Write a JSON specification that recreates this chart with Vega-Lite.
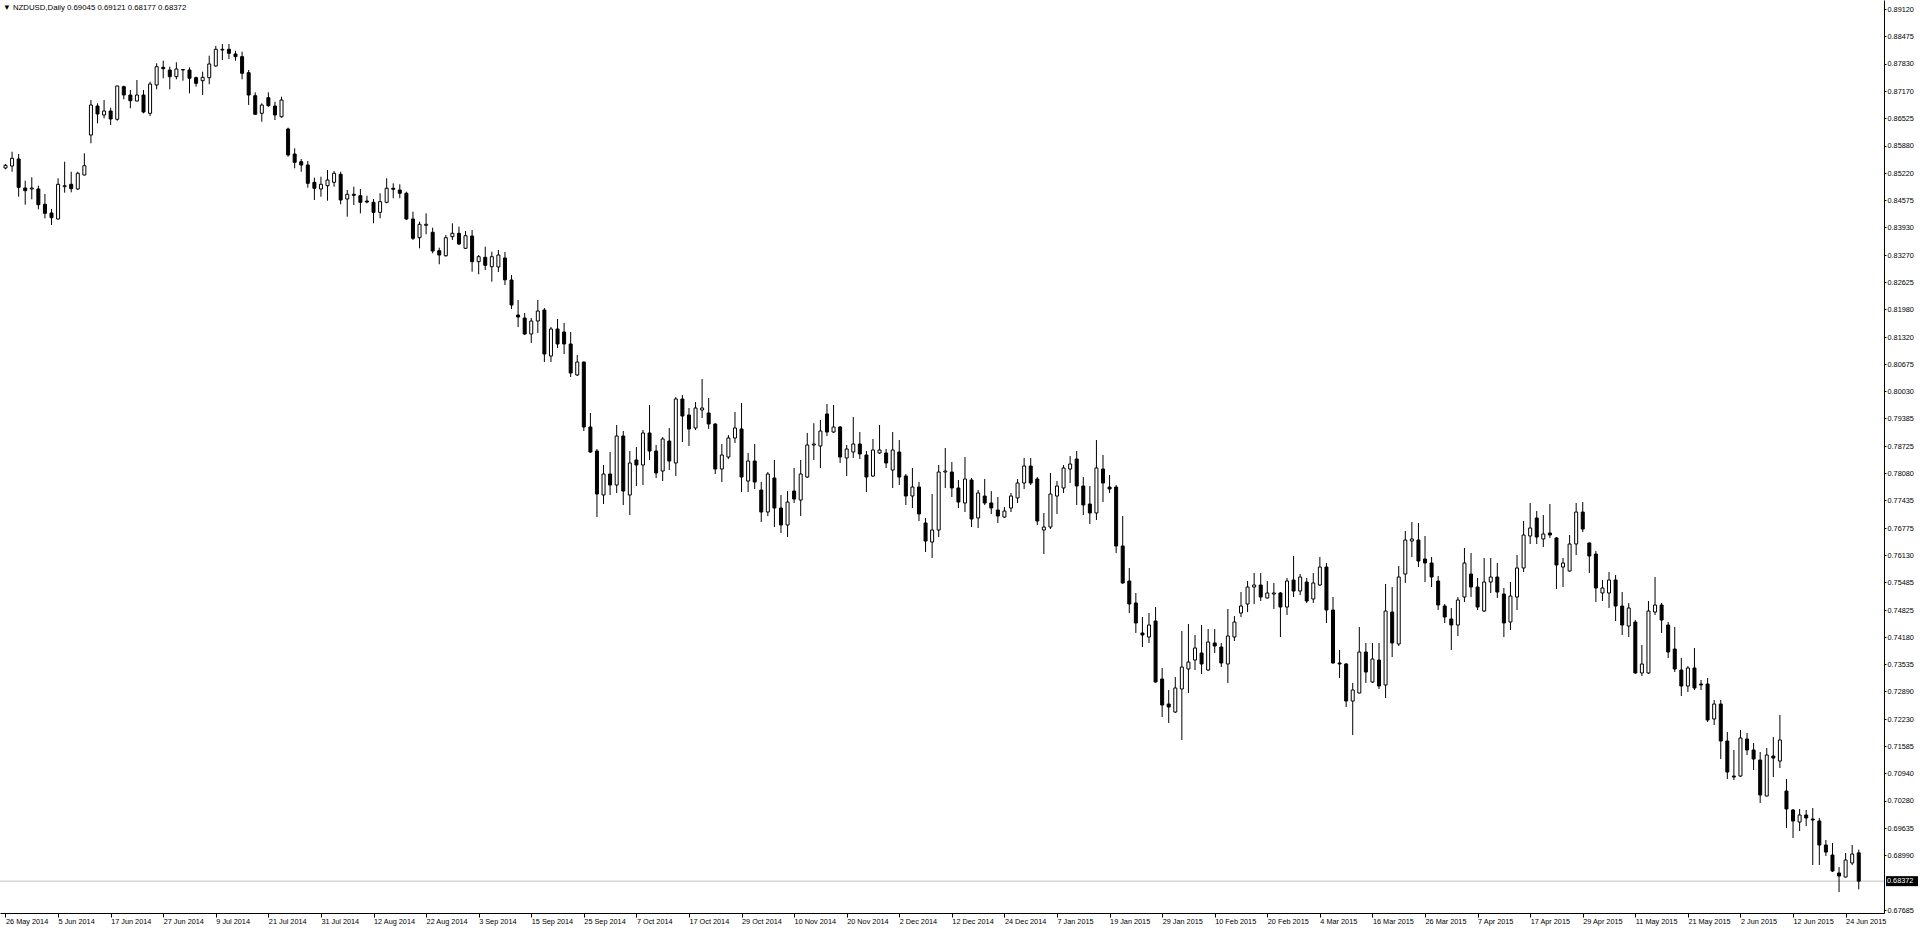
{
"$schema":"https://vega.github.io/schema/vega-lite/v6.json",
"width":1884,"height":913,
"autosize":{"type":"none"},
"padding":{"left":0,"top":0,"right":36,"bottom":16},
"background":"white",
"config":{"view":{"stroke":null},"axis":{"grid":false,"domainColor":"black","tickColor":"black","labelColor":"black","labelFont":"Liberation Sans","labelFontSize":7.3,"labelOverlap":false,"labelFlush":false,"labelBound":false}},
"title":{"text":"▼ NZDUSD,Daily  0.69045 0.69121 0.68177 0.68372","anchor":"start","frame":"group","offset":-12,"fontSize":7.8,"font":"Liberation Sans","fontWeight":"normal","color":"black","dx":3},
"datasets":{
"candles":[
{"d":"2014-05-26","o":0.85345,"h":0.8544,"l":0.85314,"c":0.85409},
{"d":"2014-05-27","o":0.85392,"h":0.85732,"l":0.85256,"c":0.85575},
{"d":"2014-05-28","o":0.85559,"h":0.85678,"l":0.84661,"c":0.84885},
{"d":"2014-05-29","o":0.84869,"h":0.85042,"l":0.84471,"c":0.84804},
{"d":"2014-05-30","o":0.84845,"h":0.85123,"l":0.846,"c":0.84869},
{"d":"2014-06-02","o":0.84845,"h":0.84923,"l":0.84362,"c":0.84471},
{"d":"2014-06-03","o":0.84481,"h":0.84726,"l":0.84147,"c":0.84266},
{"d":"2014-06-04","o":0.84274,"h":0.84369,"l":0.83988,"c":0.84162},
{"d":"2014-06-05","o":0.84131,"h":0.851,"l":0.8412,"c":0.84957},
{"d":"2014-06-06","o":0.849,"h":0.85495,"l":0.84757,"c":0.84923},
{"d":"2014-06-09","o":0.84957,"h":0.85256,"l":0.84766,"c":0.84852},
{"d":"2014-06-10","o":0.84845,"h":0.85256,"l":0.84821,"c":0.85219},
{"d":"2014-06-11","o":0.85178,"h":0.85694,"l":0.8517,"c":0.85399},
{"d":"2014-06-12","o":0.8613,"h":0.86963,"l":0.85932,"c":0.86844},
{"d":"2014-06-13","o":0.8682,"h":0.86884,"l":0.86408,"c":0.8663},
{"d":"2014-06-16","o":0.86606,"h":0.86963,"l":0.86527,"c":0.86701},
{"d":"2014-06-17","o":0.86701,"h":0.8678,"l":0.86368,"c":0.86511},
{"d":"2014-06-18","o":0.86504,"h":0.873,"l":0.8647,"c":0.87296},
{"d":"2014-06-19","o":0.8728,"h":0.87303,"l":0.8698,"c":0.87082},
{"d":"2014-06-20","o":0.87082,"h":0.87201,"l":0.86766,"c":0.86946},
{"d":"2014-06-23","o":0.86939,"h":0.87439,"l":0.8693,"c":0.87082},
{"d":"2014-06-24","o":0.87082,"h":0.87201,"l":0.86646,"c":0.86677},
{"d":"2014-06-25","o":0.86646,"h":0.87399,"l":0.86582,"c":0.87344},
{"d":"2014-06-26","o":0.8732,"h":0.87837,"l":0.87218,"c":0.87756},
{"d":"2014-06-27","o":0.87741,"h":0.87898,"l":0.8748,"c":0.87708},
{"d":"2014-06-30","o":0.87677,"h":0.87756,"l":0.87218,"c":0.87518},
{"d":"2014-07-01","o":0.87518,"h":0.8786,"l":0.87456,"c":0.87701},
{"d":"2014-07-02","o":0.87677,"h":0.87694,"l":0.87422,"c":0.87689},
{"d":"2014-07-03","o":0.87677,"h":0.87741,"l":0.87122,"c":0.8748},
{"d":"2014-07-04","o":0.87494,"h":0.87518,"l":0.8728,"c":0.8736},
{"d":"2014-07-07","o":0.87422,"h":0.87637,"l":0.87082,"c":0.87503},
{"d":"2014-07-08","o":0.87494,"h":0.88017,"l":0.87337,"c":0.8782},
{"d":"2014-07-09","o":0.87772,"h":0.88248,"l":0.87756,"c":0.8817},
{"d":"2014-07-10","o":0.88153,"h":0.88296,"l":0.87915,"c":0.8817},
{"d":"2014-07-11","o":0.8817,"h":0.88296,"l":0.87939,"c":0.88075},
{"d":"2014-07-14","o":0.88058,"h":0.88136,"l":0.87898,"c":0.87994},
{"d":"2014-07-15","o":0.87994,"h":0.88113,"l":0.87456,"c":0.87599},
{"d":"2014-07-16","o":0.87613,"h":0.87677,"l":0.86844,"c":0.87082},
{"d":"2014-07-17","o":0.87065,"h":0.87146,"l":0.86606,"c":0.86623},
{"d":"2014-07-18","o":0.86646,"h":0.86884,"l":0.86446,"c":0.86844},
{"d":"2014-07-21","o":0.87018,"h":0.87146,"l":0.86803,"c":0.86827},
{"d":"2014-07-22","o":0.8682,"h":0.86922,"l":0.86487,"c":0.86606},
{"d":"2014-07-23","o":0.86565,"h":0.87041,"l":0.86542,"c":0.86963},
{"d":"2014-07-24","o":0.86273,"h":0.86304,"l":0.85613,"c":0.85654},
{"d":"2014-07-25","o":0.85678,"h":0.85813,"l":0.85337,"c":0.8548},
{"d":"2014-07-28","o":0.85495,"h":0.85559,"l":0.85256,"c":0.85416},
{"d":"2014-07-29","o":0.85416,"h":0.85511,"l":0.84876,"c":0.8498},
{"d":"2014-07-30","o":0.85004,"h":0.85114,"l":0.84583,"c":0.84862},
{"d":"2014-07-31","o":0.84845,"h":0.85137,"l":0.84661,"c":0.84957},
{"d":"2014-08-01","o":0.84923,"h":0.85297,"l":0.84566,"c":0.85059},
{"d":"2014-08-04","o":0.85004,"h":0.85273,"l":0.849,"c":0.85219},
{"d":"2014-08-05","o":0.85195,"h":0.85256,"l":0.84481,"c":0.84583},
{"d":"2014-08-06","o":0.84607,"h":0.84821,"l":0.84186,"c":0.84719},
{"d":"2014-08-07","o":0.84719,"h":0.849,"l":0.84464,"c":0.84695},
{"d":"2014-08-08","o":0.84685,"h":0.84845,"l":0.84266,"c":0.84528},
{"d":"2014-08-11","o":0.84559,"h":0.84685,"l":0.84505,"c":0.84535},
{"d":"2014-08-12","o":0.84528,"h":0.84607,"l":0.84029,"c":0.8429},
{"d":"2014-08-13","o":0.8429,"h":0.84743,"l":0.84147,"c":0.84543},
{"d":"2014-08-14","o":0.84528,"h":0.851,"l":0.84505,"c":0.84862},
{"d":"2014-08-15","o":0.84862,"h":0.8498,"l":0.84624,"c":0.84838},
{"d":"2014-08-18","o":0.84821,"h":0.84957,"l":0.84624,"c":0.84743},
{"d":"2014-08-19","o":0.84743,"h":0.84781,"l":0.84107,"c":0.84131},
{"d":"2014-08-20","o":0.84131,"h":0.84305,"l":0.83631,"c":0.83672},
{"d":"2014-08-21","o":0.83686,"h":0.84067,"l":0.83434,"c":0.84005},
{"d":"2014-08-22","o":0.83981,"h":0.84266,"l":0.83767,"c":0.84005},
{"d":"2014-08-25","o":0.83814,"h":0.83924,"l":0.83315,"c":0.83369},
{"d":"2014-08-26","o":0.83376,"h":0.83448,"l":0.83053,"c":0.83274},
{"d":"2014-08-27","o":0.83257,"h":0.8375,"l":0.83234,"c":0.83686},
{"d":"2014-08-28","o":0.8371,"h":0.84029,"l":0.83631,"c":0.83791},
{"d":"2014-08-29","o":0.83791,"h":0.83948,"l":0.83512,"c":0.83536},
{"d":"2014-09-01","o":0.83434,"h":0.83845,"l":0.83417,"c":0.83733},
{"d":"2014-09-02","o":0.83726,"h":0.83869,"l":0.82877,"c":0.83115},
{"d":"2014-09-03","o":0.83115,"h":0.83274,"l":0.82815,"c":0.83234},
{"d":"2014-09-04","o":0.83219,"h":0.83472,"l":0.82917,"c":0.83029},
{"d":"2014-09-05","o":0.82996,"h":0.83353,"l":0.82639,"c":0.83234},
{"d":"2014-09-08","o":0.82989,"h":0.83393,"l":0.82869,"c":0.83274},
{"d":"2014-09-09","o":0.83203,"h":0.83345,"l":0.8256,"c":0.82683},
{"d":"2014-09-10","o":0.82679,"h":0.82798,"l":0.81989,"c":0.82084},
{"d":"2014-09-11","o":0.81846,"h":0.82203,"l":0.8156,"c":0.81798},
{"d":"2014-09-12","o":0.81775,"h":0.81894,"l":0.8137,"c":0.81394},
{"d":"2014-09-15","o":0.81394,"h":0.81775,"l":0.8118,"c":0.81703},
{"d":"2014-09-16","o":0.81703,"h":0.82203,"l":0.81418,"c":0.81941},
{"d":"2014-09-17","o":0.81965,"h":0.82013,"l":0.80727,"c":0.80918},
{"d":"2014-09-18","o":0.8087,"h":0.8156,"l":0.80727,"c":0.81513},
{"d":"2014-09-19","o":0.81513,"h":0.81751,"l":0.81061,"c":0.81156},
{"d":"2014-09-22","o":0.81441,"h":0.81656,"l":0.80918,"c":0.81156},
{"d":"2014-09-23","o":0.81156,"h":0.81441,"l":0.8037,"c":0.80466},
{"d":"2014-09-24","o":0.80418,"h":0.80894,"l":0.80394,"c":0.80727},
{"d":"2014-09-25","o":0.80727,"h":0.8074,"l":0.79085,"c":0.7918},
{"d":"2014-09-26","o":0.7918,"h":0.79514,"l":0.78562,"c":0.78585},
{"d":"2014-09-29","o":0.78609,"h":0.78657,"l":0.77038,"c":0.77586},
{"d":"2014-09-30","o":0.77562,"h":0.78276,"l":0.77348,"c":0.78062},
{"d":"2014-10-01","o":0.78062,"h":0.78585,"l":0.77562,"c":0.778},
{"d":"2014-10-02","o":0.778,"h":0.79228,"l":0.7761,"c":0.78966},
{"d":"2014-10-03","o":0.78966,"h":0.79085,"l":0.77324,"c":0.77657},
{"d":"2014-10-06","o":0.77562,"h":0.78609,"l":0.77086,"c":0.78324},
{"d":"2014-10-07","o":0.78395,"h":0.78704,"l":0.77776,"c":0.78276},
{"d":"2014-10-08","o":0.78276,"h":0.79109,"l":0.778,"c":0.79038},
{"d":"2014-10-09","o":0.79038,"h":0.79704,"l":0.78395,"c":0.78609},
{"d":"2014-10-10","o":0.78609,"h":0.78752,"l":0.77967,"c":0.78086},
{"d":"2014-10-13","o":0.78133,"h":0.78942,"l":0.77895,"c":0.78895},
{"d":"2014-10-14","o":0.78847,"h":0.79157,"l":0.78157,"c":0.78371},
{"d":"2014-10-15","o":0.78324,"h":0.79894,"l":0.78014,"c":0.79847},
{"d":"2014-10-16","o":0.79847,"h":0.79942,"l":0.78823,"c":0.79442},
{"d":"2014-10-17","o":0.79466,"h":0.79633,"l":0.78728,"c":0.79133},
{"d":"2014-10-20","o":0.79157,"h":0.79775,"l":0.79109,"c":0.79633},
{"d":"2014-10-21","o":0.79585,"h":0.80323,"l":0.79395,"c":0.79633},
{"d":"2014-10-22","o":0.79514,"h":0.79871,"l":0.79133,"c":0.79252},
{"d":"2014-10-23","o":0.79252,"h":0.7927,"l":0.78062,"c":0.78181},
{"d":"2014-10-24","o":0.78181,"h":0.78776,"l":0.77871,"c":0.78514},
{"d":"2014-10-27","o":0.78466,"h":0.7899,"l":0.78419,"c":0.78919},
{"d":"2014-10-28","o":0.78919,"h":0.79537,"l":0.788,"c":0.79157},
{"d":"2014-10-29","o":0.79133,"h":0.79752,"l":0.77633,"c":0.7799},
{"d":"2014-10-30","o":0.77895,"h":0.78562,"l":0.77633,"c":0.78371},
{"d":"2014-10-31","o":0.78371,"h":0.78776,"l":0.77705,"c":0.77871},
{"d":"2014-11-03","o":0.77681,"h":0.77871,"l":0.76919,"c":0.77157},
{"d":"2014-11-04","o":0.77157,"h":0.78109,"l":0.77062,"c":0.78062},
{"d":"2014-11-05","o":0.77967,"h":0.78395,"l":0.768,"c":0.77253},
{"d":"2014-11-06","o":0.77253,"h":0.77562,"l":0.76658,"c":0.76848},
{"d":"2014-11-07","o":0.76848,"h":0.77657,"l":0.76562,"c":0.77395},
{"d":"2014-11-10","o":0.77657,"h":0.78205,"l":0.77372,"c":0.77467},
{"d":"2014-11-11","o":0.77443,"h":0.78395,"l":0.77062,"c":0.78062},
{"d":"2014-11-12","o":0.7799,"h":0.79038,"l":0.77967,"c":0.78752},
{"d":"2014-11-13","o":0.78752,"h":0.7927,"l":0.78395,"c":0.78776},
{"d":"2014-11-14","o":0.78728,"h":0.79347,"l":0.78205,"c":0.79085},
{"d":"2014-11-17","o":0.7949,"h":0.79728,"l":0.78966,"c":0.79061},
{"d":"2014-11-18","o":0.79061,"h":0.79704,"l":0.7904,"c":0.7918},
{"d":"2014-11-19","o":0.7918,"h":0.79204,"l":0.78324,"c":0.78466},
{"d":"2014-11-20","o":0.78443,"h":0.78752,"l":0.78014,"c":0.78657},
{"d":"2014-11-21","o":0.78585,"h":0.79418,"l":0.78443,"c":0.78776},
{"d":"2014-11-24","o":0.78776,"h":0.79061,"l":0.78419,"c":0.78538},
{"d":"2014-11-25","o":0.78514,"h":0.78609,"l":0.77633,"c":0.7799},
{"d":"2014-11-26","o":0.78014,"h":0.78895,"l":0.7799,"c":0.78633},
{"d":"2014-11-27","o":0.78562,"h":0.79228,"l":0.78538,"c":0.78633},
{"d":"2014-11-28","o":0.78562,"h":0.78657,"l":0.78205,"c":0.78324},
{"d":"2014-12-01","o":0.78157,"h":0.79061,"l":0.77729,"c":0.78633},
{"d":"2014-12-02","o":0.78585,"h":0.78871,"l":0.778,"c":0.7799},
{"d":"2014-12-03","o":0.78014,"h":0.78062,"l":0.77324,"c":0.77538},
{"d":"2014-12-04","o":0.77538,"h":0.78205,"l":0.77253,"c":0.77752},
{"d":"2014-12-05","o":0.77752,"h":0.77871,"l":0.76943,"c":0.7711},
{"d":"2014-12-08","o":0.76896,"h":0.77015,"l":0.76205,"c":0.76467},
{"d":"2014-12-09","o":0.76443,"h":0.77586,"l":0.76063,"c":0.76729},
{"d":"2014-12-10","o":0.76729,"h":0.78276,"l":0.76562,"c":0.78109},
{"d":"2014-12-11","o":0.78109,"h":0.78681,"l":0.77729,"c":0.78133},
{"d":"2014-12-12","o":0.78109,"h":0.78347,"l":0.77514,"c":0.77729},
{"d":"2014-12-15","o":0.77729,"h":0.77919,"l":0.77253,"c":0.77395},
{"d":"2014-12-16","o":0.77372,"h":0.78466,"l":0.77157,"c":0.77943},
{"d":"2014-12-17","o":0.77919,"h":0.77967,"l":0.768,"c":0.76991},
{"d":"2014-12-18","o":0.77015,"h":0.77681,"l":0.76777,"c":0.7761},
{"d":"2014-12-19","o":0.77538,"h":0.77943,"l":0.77324,"c":0.77372},
{"d":"2014-12-22","o":0.77372,"h":0.77657,"l":0.7711,"c":0.77253},
{"d":"2014-12-23","o":0.77205,"h":0.77514,"l":0.76896,"c":0.77062},
{"d":"2014-12-24","o":0.77038,"h":0.77276,"l":0.77015,"c":0.77181},
{"d":"2014-12-26","o":0.77253,"h":0.7761,"l":0.77157,"c":0.77538},
{"d":"2014-12-29","o":0.77491,"h":0.77943,"l":0.77372,"c":0.77848},
{"d":"2014-12-30","o":0.77848,"h":0.78443,"l":0.77705,"c":0.78252},
{"d":"2014-12-31","o":0.78252,"h":0.78443,"l":0.778,"c":0.77848},
{"d":"2015-01-02","o":0.77943,"h":0.7799,"l":0.76848,"c":0.76943},
{"d":"2015-01-05","o":0.76729,"h":0.77134,"l":0.76158,"c":0.768},
{"d":"2015-01-06","o":0.768,"h":0.78086,"l":0.76753,"c":0.77586},
{"d":"2015-01-07","o":0.77538,"h":0.77895,"l":0.7711,"c":0.77776},
{"d":"2015-01-08","o":0.77729,"h":0.78276,"l":0.7761,"c":0.78205},
{"d":"2015-01-09","o":0.78181,"h":0.7849,"l":0.77848,"c":0.783},
{"d":"2015-01-12","o":0.78419,"h":0.78609,"l":0.77324,"c":0.77776},
{"d":"2015-01-13","o":0.77776,"h":0.7799,"l":0.77086,"c":0.77324},
{"d":"2015-01-14","o":0.77348,"h":0.77776,"l":0.76872,"c":0.77134},
{"d":"2015-01-15","o":0.77134,"h":0.78871,"l":0.76967,"c":0.78205},
{"d":"2015-01-16","o":0.78181,"h":0.78514,"l":0.77395,"c":0.77848},
{"d":"2015-01-19","o":0.77752,"h":0.78038,"l":0.7761,"c":0.77705},
{"d":"2015-01-20","o":0.77752,"h":0.778,"l":0.76182,"c":0.76348},
{"d":"2015-01-21","o":0.76348,"h":0.77062,"l":0.7545,"c":0.75468},
{"d":"2015-01-22","o":0.75515,"h":0.75825,"l":0.74754,"c":0.74968},
{"d":"2015-01-23","o":0.74992,"h":0.7523,"l":0.74278,"c":0.74516},
{"d":"2015-01-26","o":0.74278,"h":0.74658,"l":0.73944,"c":0.7423},
{"d":"2015-01-27","o":0.74182,"h":0.74754,"l":0.7404,"c":0.74468},
{"d":"2015-01-28","o":0.74563,"h":0.74896,"l":0.731,"c":0.73111},
{"d":"2015-01-29","o":0.73183,"h":0.73445,"l":0.72278,"c":0.72564},
{"d":"2015-01-30","o":0.72588,"h":0.72921,"l":0.72136,"c":0.72516},
{"d":"2015-02-02","o":0.72397,"h":0.7323,"l":0.72374,"c":0.72969},
{"d":"2015-02-03","o":0.72945,"h":0.74325,"l":0.71731,"c":0.73468},
{"d":"2015-02-04","o":0.73421,"h":0.74492,"l":0.7285,"c":0.73587},
{"d":"2015-02-05","o":0.73635,"h":0.7423,"l":0.73397,"c":0.73921},
{"d":"2015-02-06","o":0.73802,"h":0.74468,"l":0.73302,"c":0.7354},
{"d":"2015-02-09","o":0.73397,"h":0.74373,"l":0.73373,"c":0.74063},
{"d":"2015-02-10","o":0.7404,"h":0.74373,"l":0.73802,"c":0.73968},
{"d":"2015-02-11","o":0.73944,"h":0.7404,"l":0.73468,"c":0.73564},
{"d":"2015-02-12","o":0.7354,"h":0.74849,"l":0.73088,"c":0.74206},
{"d":"2015-02-13","o":0.74182,"h":0.74682,"l":0.74087,"c":0.74539},
{"d":"2015-02-16","o":0.74754,"h":0.75253,"l":0.74658,"c":0.7492},
{"d":"2015-02-17","o":0.74968,"h":0.75515,"l":0.74777,"c":0.75372},
{"d":"2015-02-18","o":0.75372,"h":0.75706,"l":0.74968,"c":0.7542},
{"d":"2015-02-19","o":0.7542,"h":0.75706,"l":0.75039,"c":0.75134},
{"d":"2015-02-20","o":0.75111,"h":0.75515,"l":0.751,"c":0.7523},
{"d":"2015-02-23","o":0.75206,"h":0.75468,"l":0.74849,"c":0.7523},
{"d":"2015-02-24","o":0.7523,"h":0.75253,"l":0.74182,"c":0.74896},
{"d":"2015-02-25","o":0.74896,"h":0.75587,"l":0.74706,"c":0.75515},
{"d":"2015-02-26","o":0.75539,"h":0.7611,"l":0.75134,"c":0.75277},
{"d":"2015-02-27","o":0.75277,"h":0.75682,"l":0.75182,"c":0.7561},
{"d":"2015-03-02","o":0.75491,"h":0.75587,"l":0.74992,"c":0.75039},
{"d":"2015-03-03","o":0.75087,"h":0.75706,"l":0.74992,"c":0.75468},
{"d":"2015-03-04","o":0.7542,"h":0.76086,"l":0.75396,"c":0.75848},
{"d":"2015-03-05","o":0.75848,"h":0.75944,"l":0.74516,"c":0.74825},
{"d":"2015-03-06","o":0.74825,"h":0.75134,"l":0.7355,"c":0.73564},
{"d":"2015-03-09","o":0.73564,"h":0.73873,"l":0.73207,"c":0.7354},
{"d":"2015-03-10","o":0.7354,"h":0.73564,"l":0.72516,"c":0.72659},
{"d":"2015-03-11","o":0.72659,"h":0.73088,"l":0.7185,"c":0.72921},
{"d":"2015-03-12","o":0.7285,"h":0.7442,"l":0.7284,"c":0.73825},
{"d":"2015-03-13","o":0.73825,"h":0.7404,"l":0.73088,"c":0.73349},
{"d":"2015-03-16","o":0.73111,"h":0.7404,"l":0.73088,"c":0.73659},
{"d":"2015-03-17","o":0.73635,"h":0.7404,"l":0.72945,"c":0.73016},
{"d":"2015-03-18","o":0.7304,"h":0.75444,"l":0.72731,"c":0.74801},
{"d":"2015-03-19","o":0.74777,"h":0.75372,"l":0.73706,"c":0.7404},
{"d":"2015-03-20","o":0.74016,"h":0.75872,"l":0.73968,"c":0.7561},
{"d":"2015-03-23","o":0.75682,"h":0.76705,"l":0.75468,"c":0.76491},
{"d":"2015-03-24","o":0.76467,"h":0.76919,"l":0.76086,"c":0.76515},
{"d":"2015-03-25","o":0.76491,"h":0.76896,"l":0.75848,"c":0.75991},
{"d":"2015-03-26","o":0.76039,"h":0.76586,"l":0.75491,"c":0.75944},
{"d":"2015-03-27","o":0.75944,"h":0.76086,"l":0.75372,"c":0.7561},
{"d":"2015-03-30","o":0.75515,"h":0.75634,"l":0.74825,"c":0.74944},
{"d":"2015-03-31","o":0.7492,"h":0.74968,"l":0.74516,"c":0.74658},
{"d":"2015-04-01","o":0.74611,"h":0.74873,"l":0.73873,"c":0.74468},
{"d":"2015-04-02","o":0.74468,"h":0.75134,"l":0.74206,"c":0.75063},
{"d":"2015-04-03","o":0.75134,"h":0.76301,"l":0.75015,"c":0.75944},
{"d":"2015-04-06","o":0.75682,"h":0.76182,"l":0.75134,"c":0.75372},
{"d":"2015-04-07","o":0.75372,"h":0.75587,"l":0.74825,"c":0.74896},
{"d":"2015-04-08","o":0.74801,"h":0.76063,"l":0.74777,"c":0.75491},
{"d":"2015-04-09","o":0.75491,"h":0.76063,"l":0.7523,"c":0.7561},
{"d":"2015-04-10","o":0.7561,"h":0.75944,"l":0.75111,"c":0.75253},
{"d":"2015-04-13","o":0.75206,"h":0.75349,"l":0.74182,"c":0.74516},
{"d":"2015-04-14","o":0.74539,"h":0.75491,"l":0.74349,"c":0.75158},
{"d":"2015-04-15","o":0.75134,"h":0.76134,"l":0.74825,"c":0.75825},
{"d":"2015-04-16","o":0.75825,"h":0.76943,"l":0.75729,"c":0.7661},
{"d":"2015-04-17","o":0.76586,"h":0.77372,"l":0.76396,"c":0.76777},
{"d":"2015-04-20","o":0.77015,"h":0.77181,"l":0.76396,"c":0.76562},
{"d":"2015-04-21","o":0.76515,"h":0.77086,"l":0.76324,"c":0.76634},
{"d":"2015-04-22","o":0.76658,"h":0.77348,"l":0.76539,"c":0.7661},
{"d":"2015-04-23","o":0.76539,"h":0.76562,"l":0.75325,"c":0.75896},
{"d":"2015-04-24","o":0.75848,"h":0.76063,"l":0.75372,"c":0.75944},
{"d":"2015-04-27","o":0.75753,"h":0.7661,"l":0.7574,"c":0.76396},
{"d":"2015-04-28","o":0.76396,"h":0.77372,"l":0.76134,"c":0.77157},
{"d":"2015-04-29","o":0.77157,"h":0.77395,"l":0.76681,"c":0.76753},
{"d":"2015-04-30","o":0.7642,"h":0.7643,"l":0.75706,"c":0.7611},
{"d":"2015-05-01","o":0.76158,"h":0.76229,"l":0.75015,"c":0.75349},
{"d":"2015-05-04","o":0.7523,"h":0.75539,"l":0.75039,"c":0.75349},
{"d":"2015-05-05","o":0.7523,"h":0.75729,"l":0.74873,"c":0.75539},
{"d":"2015-05-06","o":0.75539,"h":0.75658,"l":0.74563,"c":0.7492},
{"d":"2015-05-07","o":0.7492,"h":0.75253,"l":0.7423,"c":0.74468},
{"d":"2015-05-08","o":0.74444,"h":0.74992,"l":0.74182,"c":0.74873},
{"d":"2015-05-11","o":0.74539,"h":0.74587,"l":0.7331,"c":0.73326},
{"d":"2015-05-12","o":0.73326,"h":0.73992,"l":0.73254,"c":0.7354},
{"d":"2015-05-13","o":0.73326,"h":0.75039,"l":0.73302,"c":0.74801},
{"d":"2015-05-14","o":0.74777,"h":0.7561,"l":0.74706,"c":0.74944},
{"d":"2015-05-15","o":0.74944,"h":0.74992,"l":0.74278,"c":0.74587},
{"d":"2015-05-18","o":0.74468,"h":0.74539,"l":0.73683,"c":0.73825},
{"d":"2015-05-19","o":0.73897,"h":0.7442,"l":0.7335,"c":0.73421},
{"d":"2015-05-20","o":0.73397,"h":0.73683,"l":0.72778,"c":0.73016},
{"d":"2015-05-21","o":0.73016,"h":0.73492,"l":0.72873,"c":0.73445},
{"d":"2015-05-22","o":0.73445,"h":0.73921,"l":0.72921,"c":0.72969},
{"d":"2015-05-25","o":0.73064,"h":0.73159,"l":0.72921,"c":0.7304},
{"d":"2015-05-26","o":0.73064,"h":0.73207,"l":0.72159,"c":0.72207},
{"d":"2015-05-27","o":0.72231,"h":0.72683,"l":0.72088,"c":0.72588},
{"d":"2015-05-28","o":0.72588,"h":0.72683,"l":0.71279,"c":0.71707},
{"d":"2015-05-29","o":0.71707,"h":0.71921,"l":0.70803,"c":0.70969},
{"d":"2015-06-01","o":0.70874,"h":0.71493,"l":0.70779,"c":0.7085},
{"d":"2015-06-02","o":0.70874,"h":0.71969,"l":0.7085,"c":0.71779},
{"d":"2015-06-03","o":0.71755,"h":0.71898,"l":0.71374,"c":0.71493},
{"d":"2015-06-04","o":0.71493,"h":0.7166,"l":0.71017,"c":0.71279},
{"d":"2015-06-05","o":0.71255,"h":0.71445,"l":0.70232,"c":0.70422},
{"d":"2015-06-08","o":0.70398,"h":0.71541,"l":0.7039,"c":0.71374},
{"d":"2015-06-09","o":0.7135,"h":0.71802,"l":0.7085,"c":0.71302},
{"d":"2015-06-10","o":0.71231,"h":0.72326,"l":0.71065,"c":0.71731},
{"d":"2015-06-11","o":0.70517,"h":0.70803,"l":0.69637,"c":0.70089},
{"d":"2015-06-12","o":0.70065,"h":0.70089,"l":0.69399,"c":0.69803},
{"d":"2015-06-15","o":0.69779,"h":0.70089,"l":0.69565,"c":0.69946},
{"d":"2015-06-16","o":0.69946,"h":0.70065,"l":0.69684,"c":0.69875},
{"d":"2015-06-17","o":0.69851,"h":0.70113,"l":0.68756,"c":0.69827},
{"d":"2015-06-18","o":0.69803,"h":0.69875,"l":0.68756,"c":0.69232},
{"d":"2015-06-19","o":0.69232,"h":0.69351,"l":0.6897,"c":0.69065},
{"d":"2015-06-22","o":0.68994,"h":0.6928,"l":0.6859,"c":0.68613},
{"d":"2015-06-23","o":0.68566,"h":0.68708,"l":0.68113,"c":0.68494},
{"d":"2015-06-24","o":0.6847,"h":0.69042,"l":0.6846,"c":0.68875},
{"d":"2015-06-25","o":0.68804,"h":0.69232,"l":0.68756,"c":0.69018},
{"d":"2015-06-26","o":0.69045,"h":0.69121,"l":0.68177,"c":0.68372}
],
"bid":[{"price":0.68372}]
},
"layer":[
{"data":{"name":"bid"},"mark":{"type":"rule","color":"#c0c0c0","strokeWidth":1},
 "encoding":{"y":{"field":"price","type":"quantitative","title":null,"scale":{"domain":[0.67614,0.89343],"nice":false,"zero":false},
  "axis":{"orient":"right","values":[0.8912,0.88475,0.8783,0.8717,0.86525,0.8588,0.8522,0.84575,0.8393,0.8327,0.82625,0.8198,0.8132,0.80675,0.8003,0.79385,0.78725,0.7808,0.77435,0.76775,0.7613,0.75485,0.74825,0.7418,0.73535,0.7289,0.7223,0.71585,0.7094,0.7028,0.69635,0.6899,0.67685],"tickCount":100,"format":".5f","tickSize":2,"labelPadding":1,"labelOverlap":false,"labelFlush":false,"labelBound":false}}}},
{"data":{"name":"candles"},
 "transform":[{"window":[{"op":"row_number","as":"n"}]}],
 "encoding":{"x":{"field":"n","type":"quantitative","title":null,"scale":{"domain":[0.924,286.08],"nice":false,"zero":false},
  "axis":{"orient":"bottom","values":[1,9,17,25,33,41,49,57,65,73,81,89,97,105,113,121,129,137,145,153,161,169,177,185,193,201,209,217,225,233,241,249,257,265,273,281],"tickCount":100,
   "labelExpr":"['26 May 2014','5 Jun 2014','17 Jun 2014','27 Jun 2014','9 Jul 2014','21 Jul 2014','31 Jul 2014','12 Aug 2014','22 Aug 2014','3 Sep 2014','15 Sep 2014','25 Sep 2014','7 Oct 2014','17 Oct 2014','29 Oct 2014','10 Nov 2014','20 Nov 2014','2 Dec 2014','12 Dec 2014','24 Dec 2014','7 Jan 2015','19 Jan 2015','29 Jan 2015','10 Feb 2015','20 Feb 2015','4 Mar 2015','16 Mar 2015','26 Mar 2015','7 Apr 2015','17 Apr 2015','29 Apr 2015','11 May 2015','21 May 2015','2 Jun 2015','12 Jun 2015','24 Jun 2015'][round((datum.value-1)/8)]",
   "labelAlign":"left","labelDx":1,"tickSize":4,"labelPadding":0,"labelBaseline":"top","labelOverlap":false,"labelFlush":false,"labelBound":false}}},
 "layer":[
  {"mark":{"type":"rule","color":"black","strokeWidth":1},"encoding":{"y":{"field":"h","type":"quantitative"},"y2":{"field":"l"}}},
  {"mark":{"type":"bar","size":3,"stroke":"black","strokeWidth":1},"encoding":{"y":{"field":"o","type":"quantitative"},"y2":{"field":"c"},
   "fill":{"condition":{"test":"datum.c >= datum.o","value":"white"},"value":"black"}}}
 ]},
{"data":{"name":"bid"},"mark":{"type":"rect","color":"black","xOffset":2,"x2Offset":34,"yOffset":-5,"y2Offset":5},
 "encoding":{"x":{"value":"width"},"x2":{"value":"width"},"y":{"field":"price","type":"quantitative"},"y2":{"field":"price"}}},
{"data":{"name":"bid"},"mark":{"type":"text","color":"white","align":"left","baseline":"middle","dx":3,"fontSize":7.3,"font":"Liberation Sans"},
 "encoding":{"x":{"value":"width"},"y":{"field":"price","type":"quantitative"},"text":{"field":"price","type":"quantitative","format":".5f"}}}
]
}
